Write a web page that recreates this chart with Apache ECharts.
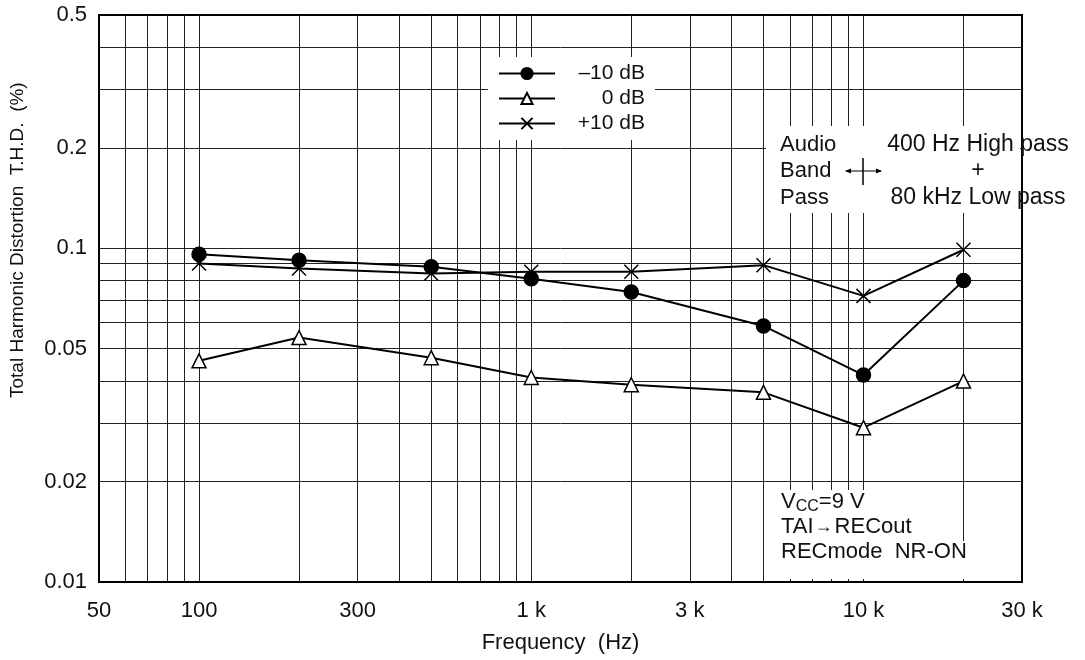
<!DOCTYPE html>
<html>
<head>
<meta charset="utf-8">
<script src="https://cdn.jsdelivr.net/npm/echarts@6/dist/echarts.min.js"></script>
<style>
  html, body { margin: 0; padding: 0; background: #fff; }
  #chart { width: 1085px; height: 660px; }
</style>
</head>
<body>
<div id="chart"></div>
<script>
// frequencies (Hz) where the curves were measured
const freqs = [100, 200, 500, 1000, 2000, 5000, 10000, 20000]
// T.H.D. (%) per input level
const minus10dB = [0.096, 0.092, 0.088, 0.081, 0.074, 0.0585, 0.0417, 0.080]
const zero0dB = [0.046, 0.054, 0.047, 0.041, 0.039, 0.037, 0.029, 0.040]
const plus10dB = [0.090, 0.087, 0.084, 0.085, 0.085, 0.089, 0.072, 0.099]

const seriesNames = ['\u201310 dB', '0 dB', '+10 dB']

// axis labels and grid lines
const xLabels = [50, 100, 300, 1000, 3000, 10000, 30000]
const xGrid = [60, 70, 80, 90, 100, 200, 300, 400, 500, 600, 700, 800, 900,
  1000, 2000, 3000, 4000, 5000, 6000, 7000, 8000, 9000, 10000, 20000]
const yLabels = [0.01, 0.02, 0.05, 0.1, 0.2, 0.5]
const yGrid = [0.02, 0.03, 0.04, 0.05, 0.06, 0.07, 0.08, 0.09, 0.1, 0.2, 0.3, 0.4]

const FONT = '"Liberation Sans", Arial, sans-serif'
const crossPath = 'path://M0,0L10,10M10,0L0,10'

const pairs = vals => freqs.map((f, i) => [f, vals[i]])

const chart = echarts.init(document.getElementById('chart'))

const lineSeries = (name, vals, symbol, size, fill, z) => ({
  name: name,
  type: 'line',
  data: pairs(vals),
  symbol: symbol,
  symbolSize: size,
  z: z,
  lineStyle: { color: '#000', width: 2 },
  itemStyle: { color: fill, borderColor: '#000', borderWidth: 1.5 },
  emphasis: { disabled: true }
})

chart.setOption({
  animation: false,
  textStyle: { fontFamily: FONT },
  grid: {
    left: 99, right: 63, top: 15, bottom: 78,
    show: true, borderColor: '#000', borderWidth: 2
  },
  xAxis: {
    type: 'log',
    logBase: 10,
    min: 50,
    max: 30000,
    name: 'Frequency  (Hz)',
    nameLocation: 'middle',
    nameGap: 50,
    nameTextStyle: { color: '#111', fontSize: 22 },
    axisLine: { show: true, lineStyle: { color: '#000', width: 2 } },
    axisTick: { show: true, length: 0, customValues: xGrid },
    splitLine: { show: true, lineStyle: { color: '#222', width: 1 } },
    axisLabel: {
      customValues: xLabels,
      color: '#111',
      fontSize: 22,
      margin: 18,
      formatter: v => {
        const n = Math.round(v)
        return n >= 1000 ? (n / 1000) + ' k' : String(n)
      }
    }
  },
  yAxis: {
    type: 'log',
    logBase: 10,
    min: 0.01,
    max: 0.5,
    axisLine: { show: true, lineStyle: { color: '#000', width: 2 } },
    axisTick: { show: true, length: 0, customValues: yGrid },
    splitLine: { show: true, lineStyle: { color: '#222', width: 1 } },
    axisLabel: {
      customValues: yLabels,
      color: '#111',
      fontSize: 22,
      margin: 12,
      formatter: v => String(Number(v.toPrecision(3)))
    }
  },
  legend: {
    orient: 'vertical',
    left: 488,
    top: 57,
    padding: [6, 10, 6, 10],
    backgroundColor: '#fff',
    itemWidth: 56,
    itemHeight: 14,
    itemGap: 4,
    data: seriesNames,
    formatter: n => '{t|' + n + '}',
    textStyle: {
      color: '#111',
      fontSize: 21,
      rich: { t: { width: 85, align: 'right', fontSize: 21, lineHeight: 21, color: '#111' } }
    }
  },
  series: [
    lineSeries(seriesNames[0], minus10dB, 'circle', 14, '#000', 4),
    lineSeries(seriesNames[1], zero0dB, 'triangle', 14, '#fff', 3),
    lineSeries(seriesNames[2], plus10dB, crossPath, 14, '#fff', 3)
  ],
  graphic: [
    {
      type: 'text',
      rotation: Math.PI / 2,
      x: 8, y: 398,
      style: {
        text: 'Total Harmonic Distortion  T.H.D.  (%)',
        font: '19px ' + FONT,
        fill: '#111'
      }
    },
    // band-pass note
    {
      type: 'rect',
      shape: { x: 766, y: 126, width: 254, height: 87 },
      style: { fill: '#fff' },
      z: 10
    },
    {
      type: 'text', x: 780, y: 171, z: 11,
      style: {
        text: 'Audio\nBand\nPass', font: '22px ' + FONT, fill: '#111',
        lineHeight: 26.5, verticalAlign: 'middle'
      }
    },
    {
      type: 'text', x: 978, y: 171, z: 11,
      style: {
        text: '400 Hz High pass\n+\n80 kHz Low pass', font: '23px ' + FONT, fill: '#111',
        lineHeight: 26.5, align: 'center', verticalAlign: 'middle'
      }
    },
    {
      type: 'group', z: 11,
      children: [
        { type: 'line', shape: { x1: 846, y1: 171, x2: 881, y2: 171 }, style: { stroke: '#000', lineWidth: 1.2 }, z: 11 },
        { type: 'line', shape: { x1: 863, y1: 158, x2: 863, y2: 185 }, style: { stroke: '#000', lineWidth: 1.5 }, z: 11 },
        { type: 'polygon', shape: { points: [[845, 171], [851, 168.5], [851, 173.5]] }, style: { fill: '#000' }, z: 11 },
        { type: 'polygon', shape: { points: [[882, 171], [876, 168.5], [876, 173.5]] }, style: { fill: '#000' }, z: 11 }
      ]
    },
    // test conditions note
    {
      type: 'rect',
      shape: { x: 766, y: 490, width: 195, height: 89 },
      style: { fill: '#fff' },
      z: 10
    },
    {
      type: 'rect',
      shape: { x: 766, y: 541, width: 220, height: 38 },
      style: { fill: '#fff' },
      z: 10
    },
    {
      type: 'text', x: 781, y: 527, z: 11,
      style: {
        text: 'V{s|CC}=9 V\nTAI{a|\u2192}RECout\nRECmode  NR-ON',
        font: '22px ' + FONT, fill: '#111',
        lineHeight: 25, verticalAlign: 'middle',
        rich: {
          s: { fontSize: 16, fontFamily: 'Liberation Sans', padding: [9, 0, 0, 0], fill: '#111' },
          a: { fontSize: 18, fontFamily: 'Liberation Sans', padding: [0, 2, 0, 1], fill: '#111' }
        }
      }
    }
  ]
})
</script>
</body>
</html>
